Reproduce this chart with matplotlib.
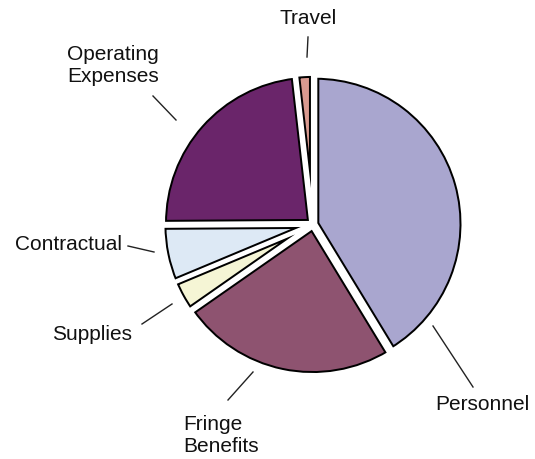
import numpy as np
import matplotlib.pyplot as plt
from matplotlib.patches import Wedge

plt.rcParams['font.family'] = ['Liberation Sans', 'DejaVu Sans']

# budget shares (percent), clockwise from 12 o'clock
categories = ['Personnel', 'Fringe\nBenefits', 'Supplies', 'Contractual',
              'Operating\nExpenses', 'Travel']
shares = [41.3, 24.0, 3.4, 6.2, 23.3, 1.8]
colors = ['#a9a6cf', '#8e5370', '#f5f5d5', '#dde9f5', '#6a256a', '#d99a90']

W, H = 535, 459
fig = plt.figure(figsize=(W / 100, H / 100), dpi=100)
ax = fig.add_axes([0, 0, 1, 1])

cx, cy = 313, H - 224.5
radius = 148
gap = 1.5      # white band inside each wedge edge (px)
outline = 2.4  # black outline width (px)

wedges, _ = ax.pie(shares, colors=colors, startangle=90, counterclock=False,
                   radius=radius, center=(cx, cy), explode=[2.5] * len(shares),
                   wedgeprops=dict(edgecolor='black',
                                   linewidth=2 * (gap + outline) * 0.72))

# keep the black stroke inside each wedge, then whiten the outer part of it
for w in wedges:
    w.set_clip_on(True)
    w.set_clip_path(w)
    band = Wedge(w.center, w.r, w.theta1, w.theta2, facecolor='none',
                 edgecolor='white', linewidth=2 * gap * 0.72 + 0.6)
    ax.add_patch(band)

# label text position, alignment, and leader line (pixel coords, y down)
label_layout = [
    ((435, 405), 'left', [(433, 326), (473, 387)]),
    ((183, 436), 'left', [(228, 400), (253, 372)]),
    ((92, 335), 'center', [(142, 324), (172, 304)]),
    ((122, 245), 'right', [(128, 246), (154, 252)]),
    ((113, 66), 'center', [(153, 96), (176, 120)]),
    ((308, 19), 'center', [(308, 37), (307, 57)]),
]

for name, (pos, ha, line) in zip(categories, label_layout):
    ax.text(pos[0], H - pos[1], name, ha=ha, va='center', fontsize=15,
            color='#111111', linespacing=1.2, multialignment=ha)
    xs = [p[0] for p in line]
    ys = [H - p[1] for p in line]
    ax.plot(xs, ys, color='#222222', linewidth=1.0)

ax.set_xlim(0, W)
ax.set_ylim(0, H)
ax.set_aspect('equal')
ax.axis('off')

fig.savefig('out.png', dpi=100)
